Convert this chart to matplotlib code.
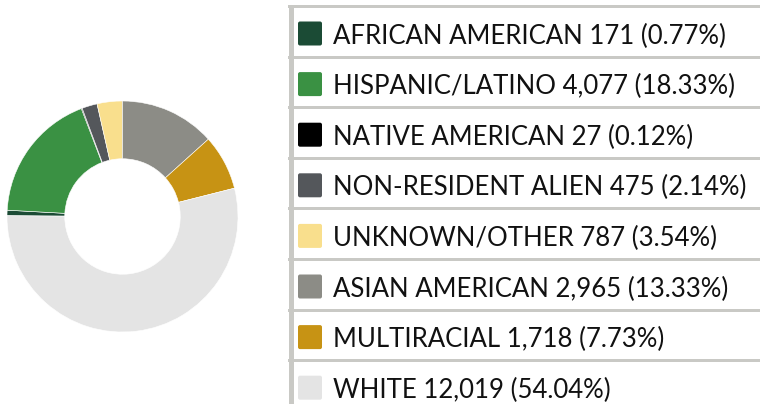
import matplotlib
matplotlib.use("Agg")
import matplotlib.pyplot as plt
from matplotlib.patches import Rectangle, FancyBboxPatch

# data
groups = ["AFRICAN AMERICAN", "HISPANIC/LATINO", "NATIVE AMERICAN", "NON-RESIDENT ALIEN",
          "UNKNOWN/OTHER", "ASIAN AMERICAN", "MULTIRACIAL", "WHITE"]
counts = [171, 4077, 27, 475, 787, 2965, 1718, 12019]
colors = ["#1b4b35", "#3a9143", "#000000", "#54575b",
          "#f9df8d", "#8c8c86", "#c79314", "#e4e4e4"]

W, H = 760, 404
fig = plt.figure(figsize=(W / 100, H / 100), dpi=100)
fig.patch.set_facecolor("white")

total = sum(counts)

# donut, clockwise, legend order; Asian/Multiracial/White sit right of 12 o'clock
cx, cy, r = 122.5, 216.5, 115.5
ax = fig.add_axes([(cx - r) / W, (H - cy - r) / H, 2 * r / W, 2 * r / H])
start = 90 - 360 * sum(counts[5:]) / total
ax.pie(counts, colors=colors, startangle=start, counterclock=False, radius=1,
       wedgeprops=dict(width=0.5, edgecolor="white", linewidth=0.4))
ax.set_xlim(-1, 1)
ax.set_ylim(-1, 1)
ax.set_aspect("equal")
ax.axis("off")

# legend drawn in pixel coords
lg = fig.add_axes([0, 0, 1, 1])
lg.set_xlim(0, W)
lg.set_ylim(H, 0)
lg.axis("off")

border = "#c9c9c5"
pitch = 50.6
for i, (g, c, col) in enumerate(zip(groups, counts, colors)):
    top = 5 + i * pitch
    lg.add_patch(Rectangle((288, top), W - 288, 3, color=border, lw=0))
    lg.add_patch(Rectangle((288.5, top), 5.5, pitch, color=border, lw=0))
    lg.add_patch(FancyBboxPatch((298, top + 16.5), 24, 24,
                                boxstyle="round,pad=0,rounding_size=2",
                                fc=col, ec="none"))
    label = f"{g} {c:,} ({100 * c / total:.2f}%)"
    lg.text(333, top + 31, label, fontsize=18.5, family="Lato",
            color="#111111", va="center", ha="left")

fig.savefig("out.png", dpi=100)
